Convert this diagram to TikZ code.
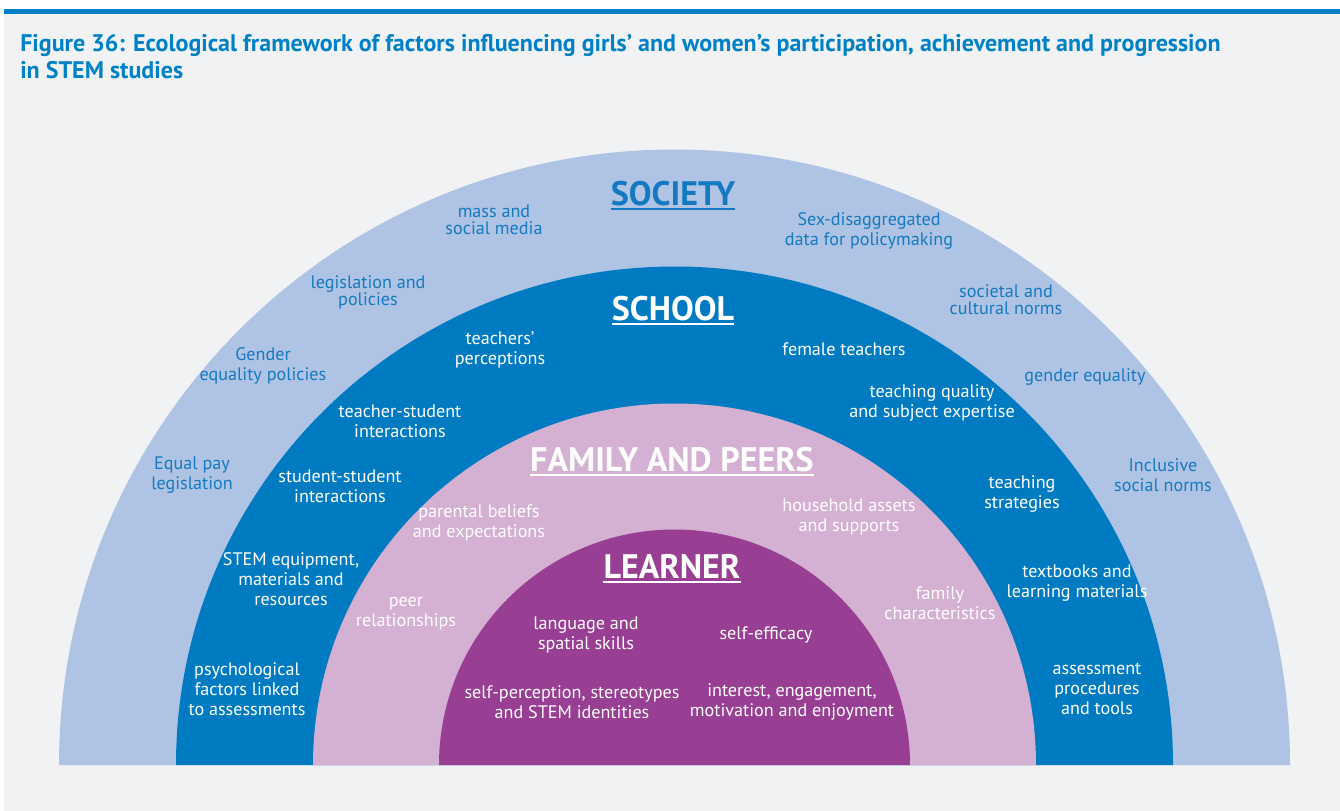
\documentclass[tikz,border=0pt]{standalone}
\usepackage{fontspec}
\setsansfont{PT Sans}
\definecolor{barblue}{HTML}{0080C6}
\definecolor{pagegray}{HTML}{F0F2F4}
\definecolor{societyblue}{HTML}{AFC4E4}
\definecolor{schoolblue}{HTML}{007BC2}
\definecolor{familypink}{HTML}{D4B0D2}
\definecolor{learnerpurple}{HTML}{983E93}
\definecolor{textblue}{HTML}{1479C0}
\begin{document}
\begin{tikzpicture}[x=0.75pt,y=0.75pt,font=\sffamily\fontsize{13.6}{14.8}\selectfont,
  factor/.style={align=center, inner sep=0pt, text=white},
  socfactor/.style={factor, text=textblue},
  tight/.style={font=\sffamily\fontsize{13.6}{12.8}\selectfont},
  ring/.style={font=\sffamily\bfseries\fontsize{25.5}{25.5}\selectfont, inner sep=0pt, anchor=base},
  rule/.style={line width=1.6pt}]
\useasboundingbox (0,0) rectangle (1340,-811);
\fill[white] (0,0) rectangle (1340,-811);
\fill[pagegray] (4,-14) rectangle (1340,-811);
\fill[barblue] (4,-9) rectangle (1340,-14);
\node[anchor=north west, align=left, inner sep=0pt, text=barblue, font=\sffamily\bfseries\fontsize{18}{20.3}\selectfont] (title) at (20,-34)
  {Figure 36: Ecological framework of factors influencing girls’ and women’s participation, achievement and progression\\in STEM studies};
% the four half rings
\fill[societyblue] (59,-765) arc[start angle=180, end angle=0, radius=615.5] -- cycle;
\fill[schoolblue] (176,-765) arc[start angle=180, end angle=0, radius=498.5] -- cycle;
\fill[familypink] (313,-765) arc[start angle=180, end angle=0, radius=361.5] -- cycle;
\fill[learnerpurple] (439,-765) arc[start angle=180, end angle=0, radius=235.5] -- cycle;
% ring titles
\node[ring, text=textblue] (society) at (673,-205) {SOCIETY};
\draw[rule, textblue] ([yshift=-3pt]society.base west) -- ([yshift=-3pt]society.base east);
\node[ring, text=white] (school) at (673,-320) {SCHOOL};
\draw[rule, white] ([yshift=-3pt]school.base west) -- ([yshift=-3pt]school.base east);
\node[ring, text=white] (family) at (672,-471) {FAMILY AND PEERS};
\draw[rule, white] ([yshift=-3pt]family.base west) -- ([yshift=-3pt]family.base east);
\node[ring, text=white] (learner) at (672,-578) {LEARNER};
\draw[rule, white] ([yshift=-3pt]learner.base west) -- ([yshift=-3pt]learner.base east);
% society
\node[socfactor, tight] (media) at (494,-220) {mass and\\social media};
\node[socfactor] (data) at (869,-231) {Sex-disaggregated\\data for policymaking};
\node[socfactor, tight] (legis) at (368,-292) {legislation and\\policies};
\node[socfactor, tight] (norms) at (1006,-300) {societal and\\cultural norms};
\node[socfactor] (genpol) at (263,-366) {Gender\\equality policies};
\node[socfactor] (geneq) at (1085,-377) {gender equality};
\node[socfactor] (pay) at (192,-475) {Equal pay\\legislation};
\node[socfactor] (inclusive) at (1163,-475) {Inclusive\\social norms};
% school
\node[factor] (perc) at (500,-350) {teachers’\\perceptions};
\node[factor] (female) at (844,-349) {female teachers};
\node[factor] (quality) at (932,-403) {teaching quality\\and subject expertise};
\node[factor] (ts) at (400,-421) {teacher-student\\interactions};
\node[factor] (ss) at (340,-486) {student-student\\interactions};
\node[factor] (strat) at (1022,-494) {teaching\\strategies};
\node[factor] (equip) at (291,-579) {STEM equipment,\\materials and\\resources};
\node[factor] (books) at (1077,-583) {textbooks and\\learning materials};
\node[factor] (psych) at (247,-689) {psychological\\factors linked\\to assessments};
\node[factor] (assess) at (1097,-689) {assessment\\procedures\\and tools};
% family and peers
\node[factor] (parents) at (479,-523) {parental beliefs\\and expectations};
\node[factor] (house) at (849,-517) {household assets\\and supports};
\node[factor] (peer) at (406,-614) {peer\\relationships};
\node[factor] (fchar) at (940,-603) {family\\characteristics};
% learner
\node[factor] (lang) at (586,-635) {language and\\spatial skills};
\node[factor] (eff) at (766,-635) {self-efficacy};
\node[factor] (self) at (572,-702) {self-perception, stereotypes\\and STEM identities};
\node[factor] (interest) at (792,-702) {interest, engagement,\\motivation and enjoyment};
\end{tikzpicture}
\end{document}
